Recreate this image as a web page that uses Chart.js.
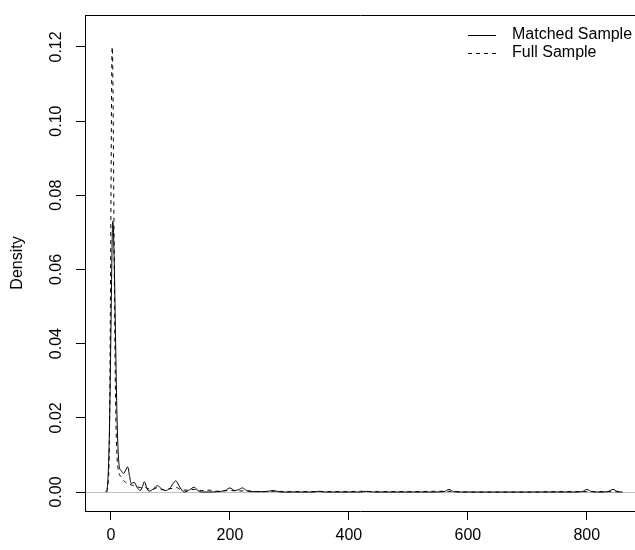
<!DOCTYPE html>
<html><head><meta charset="utf-8">
<script src="https://cdn.jsdelivr.net/npm/chart.js@4.4.1/dist/chart.umd.min.js"></script>
<style>html,body{margin:0;padding:0;background:#fff;overflow:hidden}#wrap{width:635px;height:550px}</style>
</head><body><div id="wrap"><canvas id="c" width="635" height="550"></canvas></div>
<script>
const seriesNames = ["Matched Sample", "Full Sample"];
const matchedX = [-9,-6,-4,-2,0,2,3,4,6,8,10,12,14,17,21,25,28,31,34,39,44,49,53,56,60,64,71,78,85,91,99,104,109,114,119,124,132,140,146,152,165,180,192,200,208,214,221,228,236,260,273,285,340,350,360,420,430,440,540,560,568,576,590,780,792,800,808,820,835,844,852,860];
const matchedY = [0,0.0015,0.008,0.022,0.045,0.068,0.073,0.071,0.058,0.038,0.021,0.011,0.0068,0.0058,0.005,0.006,0.0068,0.0045,0.0023,0.0026,0.0012,0.0004,0.0015,0.0028,0.0012,0.0002,0.0008,0.0017,0.0009,0.0004,0.001,0.0022,0.003,0.0018,0.0005,0,0.0006,0.0013,0.0004,0,0,0.0001,0.0004,0.0011,0.0004,0.0006,0.0011,0.0004,0.0001,0.0001,0.0004,0,0,0.0002,0,0,0.0002,0,0,0.0001,0.0007,0.0001,0,0,0.0001,0.0007,0.0001,0,0.0001,0.0007,0.0001,0];
const fullX = [-7,-5,-3,-2,-1,0,1,2,3,4,5,6,8,10,13,17,23,30,36,42,50,56,62,70,78,86,95,104,110,118,128,140,152,165,178,200,215,230,250,275,300,350,400,420,435,450,500,560,600,700,755,800,845,860];
const fullY = [0,0.002,0.01,0.025,0.05,0.08,0.108,0.12,0.114,0.095,0.072,0.05,0.022,0.01,0.0055,0.0041,0.0028,0.0022,0.0018,0.0015,0.0012,0.0013,0.0009,0.0007,0.0012,0.0006,0.0008,0.001,0.0012,0.0006,0.0005,0.0007,0.0004,0.0005,0.0002,0.0004,0.0003,0.0003,0.0001,0.0002,0.0001,0.0001,0.0001,0.0002,0.0001,0.0001,0.0001,0.0002,0,0,0.0001,0.0001,0.0001,0];
const xTicks = [0, 200, 400, 600, 800];
const yTicks = [0, 0.02, 0.04, 0.06, 0.08, 0.10, 0.12];
const yTickLabels = ["0.00", "0.02", "0.04", "0.06", "0.08", "0.10", "0.12"];
const yTitle = "Density";

const FONT = {family: "'Liberation Sans', Arial, Helvetica, sans-serif", size: 16};
const pts = (xs, ys) => xs.map((x, i) => ({x: x, y: ys[i]}));

const legendPlugin = {
  id: 'rLegend',
  afterDraw(chart) {
    const ctx = chart.ctx;
    ctx.save();
    ctx.font = "16px 'Liberation Sans', Arial, sans-serif";
    ctx.textBaseline = 'middle';
    ctx.textAlign = 'left';
    chart.data.datasets.forEach((ds, i) => {
      const y = 35 + i * 18;
      ctx.beginPath();
      ctx.strokeStyle = ds.borderColor;
      ctx.lineWidth = ds.borderWidth;
      ctx.setLineDash(ds.borderDash || []);
      ctx.moveTo(468, y + 0.5);
      ctx.lineTo(496, y + 0.5);
      ctx.stroke();
      ctx.setLineDash([]);
      ctx.fillStyle = '#000';
      ctx.fillText(ds.label, 512, y);
    });
    ctx.restore();
  }
};

new Chart(document.getElementById('c'), {
  type: 'scatter',
  data: {
    datasets: [
      {label: seriesNames[0], data: pts(matchedX, matchedY), showLine: true, borderColor: '#000', borderWidth: 1, pointRadius: 0, cubicInterpolationMode: 'monotone', fill: false},
      {label: seriesNames[1], data: pts(fullX, fullY), showLine: true, borderColor: '#000', borderWidth: 1, borderDash: [4, 4], pointRadius: 0, cubicInterpolationMode: 'monotone', fill: false}
    ]
  },
  options: {
    responsive: false, animation: false, devicePixelRatio: 1,
    layout: {padding: 0},
    plugins: {legend: {display: false}, tooltip: {enabled: false}},
    scales: {
      x: {
        type: 'linear', position: 'bottom', min: -43.7, max: 881,
        afterBuildTicks: s => { s.ticks = xTicks.map(v => ({value: v})); },
        afterFit: s => { s.height = 39; },
        ticks: {color: '#000', font: FONT, padding: 6, minRotation: 0, maxRotation: 0, callback: v => String(v)},
        grid: {display: true, drawOnChartArea: false, drawTicks: true, tickLength: 9, color: '#000', lineWidth: 1},
        border: {display: true, color: '#000', width: 1}
      },
      xTop: {
        type: 'linear', position: 'top', min: -43.7, max: 881,
        afterFit: s => { s.height = 15; },
        ticks: {display: false},
        grid: {display: false},
        border: {display: true, color: '#000', width: 1}
      },
      y: {
        type: 'linear', position: 'left', min: -0.00512, max: 0.1286,
        afterBuildTicks: s => { s.ticks = yTicks.map(v => ({value: v})); },
        afterFit: s => { s.width = 85; },
        ticks: {color: '#000', font: FONT, minRotation: 90, maxRotation: 90, crossAlign: 'center', padding: 4,
                callback: (v, i) => yTickLabels[i]},
        grid: {display: true, drawOnChartArea: true, drawTicks: true, tickLength: 9, lineWidth: 1,
               color: c => (c.tick && c.tick.value === 0) ? '#bebebe' : 'rgba(0,0,0,0)', tickColor: '#000'},
        border: {display: true, color: '#000', width: 1},
        title: {display: true, text: yTitle, color: '#000', font: FONT, padding: {top: 8, bottom: 0}}
      }
    }
  },
  plugins: [legendPlugin]
});
</script></body></html>
